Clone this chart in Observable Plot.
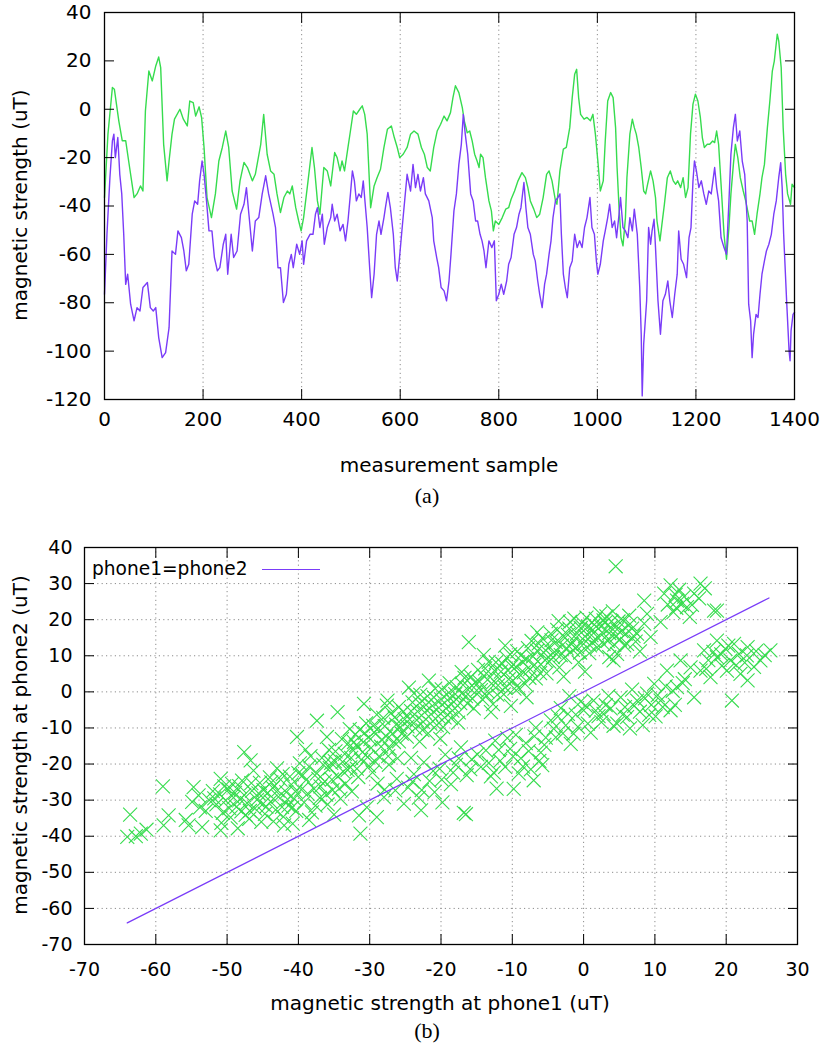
<!DOCTYPE html>
<html><head><meta charset="utf-8">
<script src="https://cdn.jsdelivr.net/npm/d3@7"></script>
<script src="https://cdn.jsdelivr.net/npm/@observablehq/plot@0.6"></script>
<style>
body{margin:0;background:#fff;}
#fig{position:relative;width:822px;height:1051px;overflow:hidden;font-family:"DejaVu Sans",sans-serif;color:#000;}
#fig svg{position:absolute;left:0;}
.t{position:absolute;white-space:nowrap;line-height:1;transform:translate(-50%,-50%);font-size:20px;}
.v{transform:translate(-50%,-50%) rotate(-90deg);}
.cap{font-family:"Liberation Serif","Times New Roman",serif;font-size:22px;}
#legend{position:absolute;left:92px;top:558px;font-size:18.6px;line-height:22px;white-space:nowrap;}
#legend span.sw{display:inline-block;width:58px;height:0;border-top:1.3px solid #7a3cf8;vertical-align:middle;margin-left:14px;}
</style></head><body><div id="fig"></div>
<script>
// ---------- data ----------
const sampleTicks = [0, 200, 400, 600, 800, 1000, 1200, 1400];
const strengthTicks = [-120, -100, -80, -60, -40, -20, 0, 20, 40];
const phone1Ticks = [-70, -60, -50, -40, -30, -20, -10, 0, 10, 20, 30];
const phone2Ticks = [-70, -60, -50, -40, -30, -20, -10, 0, 10, 20, 30, 40];
const legendLabel = "phone1=phone2";
const identityEnds = [-64, 26];

// purple trace [sample, uT]
const purpleTrace = [[0,-76.5],[5,-51.7],[11,-28.3],[16,-13.1],[19,-10.3],[22,-20],[27,-11.7],[31,-26.9],[35,-35],[39,-51.7],[43,-72.4],[47,-68.2],[53,-80.6],[60,-87.5],[66,-82],[72,-83.4],[78,-73.7],[87,-71.6],[93,-82],[99,-83.4],[104,-82],[110,-94.4],[117,-102.7],[124,-100.6],[131,-90.3],[137,-58.6],[144,-60],[149,-50.3],[156,-53.1],[161,-58.6],[166,-66.8],[171,-64.1],[178,-43.4],[183,-37.9],[189,-39.3],[193,-29.6],[198,-21.4],[202,-26.9],[207,-37.9],[212,-50.3],[218,-50.3],[223,-61.3],[229,-66.8],[234,-65.5],[241,-55.8],[246,-51.7],[250,-68.2],[257,-51.7],[262,-61.3],[269,-58.6],[276,-43.4],[283,-39.3],[288,-32.4],[293,-43.4],[300,-58.6],[306,-46.2],[313,-44.8],[320,-35],[327,-27.5],[333,-35],[342,-43.4],[347,-48.9],[352,-65.5],[357,-65.5],[363,-79.9],[369,-76.5],[374,-64.1],[379,-60],[383,-65.5],[390,-55.8],[396,-60],[401,-54.4],[404,-64.1],[410,-54.4],[417,-51.7],[423,-51.7],[428,-43.4],[432,-40.7],[437,-48.9],[442,-43.4],[446,-55.8],[452,-48.9],[459,-44.8],[462,-39.3],[467,-46.2],[472,-43.4],[478,-50.3],[484,-47.6],[489,-54.4],[494,-46.2],[499,-35],[503,-25.5],[507,-29.6],[511,-37.9],[516,-35],[521,-36.5],[525,-29.6],[529,-39.3],[533,-48.9],[538,-65.5],[542,-77.9],[547,-68.2],[552,-51.7],[557,-46.2],[561,-51.7],[567,-44.8],[570,-40.7],[575,-34.4],[580,-40.7],[586,-51.7],[590,-65.5],[594,-71],[598,-62.7],[604,-48.9],[609,-37.9],[614,-26.9],[621,-33.8],[626,-22.8],[631,-32.4],[636,-26.9],[641,-33.8],[647,-28.3],[651,-35],[658,-37.9],[665,-44.8],[668,-54.4],[674,-61.3],[678,-65.5],[683,-73.7],[689,-75.1],[694,-79.2],[699,-71],[703,-60],[709,-42],[714,-35],[719,-22.8],[724,-14.5],[728,-2.1],[732,-10.3],[737,-18.6],[743,-35],[748,-37.9],[753,-46.2],[757,-46.2],[762,-51.7],[766,-54.4],[770,-58.6],[774,-65.5],[780,-54.4],[786,-57.2],[791,-54.4],[795,-79.2],[800,-76.5],[805,-72.3],[810,-76.5],[816,-71],[820,-64.1],[825,-61.3],[831,-51.7],[836,-48.9],[841,-43.4],[845,-40.7],[851,-30.3],[855,-40.7],[859,-48.9],[864,-51.7],[870,-60],[874,-62.7],[879,-71],[883,-76.5],[888,-82],[893,-72.3],[897,-68.2],[902,-60],[906,-54.4],[910,-44.8],[915,-37.9],[920,-36.5],[924,-35],[927,-51.7],[931,-68.2],[935,-73.7],[939,-77.9],[944,-65.5],[949,-62.7],[954,-51.7],[959,-57.2],[964,-54.4],[969,-57.2],[974,-48.9],[979,-44.8],[985,-36.5],[989,-48.9],[994,-51.7],[998,-62.7],[1001,-68.2],[1006,-64.1],[1012,-54.4],[1016,-50.3],[1021,-44.8],[1025,-39.3],[1030,-48.9],[1035,-46.2],[1039,-53.1],[1044,-43.4],[1047,-36.5],[1052,-48.9],[1057,-50.3],[1062,-53.1],[1066,-44.8],[1071,-50.3],[1075,-41.3],[1081,-51.7],[1086,-73.7],[1089,-93],[1091,-118.5],[1094,-97.1],[1100,-79.2],[1104,-48.9],[1108,-55.8],[1111,-50.3],[1115,-45.5],[1118,-57.2],[1123,-79.2],[1128,-93],[1133,-79.2],[1138,-76.5],[1143,-71],[1147,-79.2],[1152,-86.1],[1157,-76.5],[1162,-68.2],[1165,-50.3],[1170,-62],[1175,-64.1],[1181,-69.6],[1186,-53.1],[1190,-48.9],[1194,-29.6],[1197,-21.4],[1201,-25.5],[1206,-32.4],[1211,-29.6],[1216,-35],[1221,-39.3],[1226,-33.8],[1231,-35],[1238,-24.1],[1242,-32.4],[1246,-37.9],[1251,-53.1],[1257,-57.2],[1262,-60],[1267,-37.9],[1271,-18.6],[1276,-7.6],[1280,-2.1],[1284,-13.1],[1289,-9],[1294,-21.4],[1299,-26.9],[1304,-46.2],[1307,-80.6],[1311,-87.5],[1314,-102.7],[1317,-93],[1322,-84.8],[1326,-86.1],[1330,-76.5],[1334,-68.2],[1339,-62.7],[1343,-58.6],[1348,-55.8],[1353,-51.7],[1358,-43.4],[1363,-37.9],[1368,-28.3],[1372,-22.1],[1375,-32.4],[1378,-51.7],[1384,-79.2],[1389,-99.9],[1391,-104],[1393,-91.6],[1397,-84.8],[1400,-84]];

// green trace [sample, uT]
const greenTrace = [[0,-36.5],[7,-10.3],[16,9],[20,8.3],[29,-4.8],[36,-13],[43,-13],[49,-21.4],[60,-36.5],[66,-35],[73,-31.7],[78,-33.8],[83,-0.7],[90,15.8],[97,11.7],[104,17.9],[110,21.6],[114,17.2],[120,-14.5],[127,-29.6],[131,-21.4],[137,-10.3],[142,-4.1],[153,0],[160,-4.1],[168,-6.9],[173,3.4],[180,2.7],[185,-2.8],[192,1],[197,-3.4],[202,-15.8],[208,-36.5],[217,-44.8],[225,-35],[232,-21.4],[239,-15.8],[246,-9],[252,-15.8],[259,-33.8],[268,-41.3],[275,-29.6],[283,-22],[290,-24.1],[300,-29.6],[306,-26.9],[317,-14.5],[323,-2.1],[330,-18.6],[337,-25.5],[344,-26.9],[350,-35],[357,-42.7],[364,-36.5],[371,-33.8],[376,-35],[381,-31.7],[388,-40.7],[394,-46.2],[399,-50.3],[404,-44.8],[413,-29.6],[421,-15.8],[426,-24.1],[432,-37.9],[437,-43.4],[445,-24.1],[452,-25.5],[459,-31.7],[467,-17.9],[472,-20],[478,-25.5],[482,-21.4],[487,-25.5],[494,-15.8],[499,-9],[505,-0.7],[511,-2.1],[518,0],[523,1.4],[528,-2.1],[533,-10.3],[540,-40.7],[547,-31.7],[553,-28.3],[560,-24.8],[567,-15.8],[574,-8.3],[582,-6.9],[588,-11.7],[594,-15.8],[599,-20],[606,-18.6],[614,-15.8],[621,-10.3],[628,-9],[636,-10.3],[643,-15.8],[649,-18.6],[655,-24.1],[661,-25.5],[668,-15.8],[675,-9],[682,-6.2],[689,-2.8],[695,-4.8],[702,-1.4],[707,4.8],[712,9.7],[719,6.9],[726,0.7],[730,-4.8],[736,-9.7],[741,-9],[746,-13.1],[751,-18.6],[756,-21.4],[760,-24.1],[763,-18.6],[768,-20],[773,-28.3],[780,-37.9],[785,-42],[789,-50.3],[793,-46.2],[800,-47.6],[807,-44.8],[814,-41.3],[820,-40.7],[825,-37.2],[832,-33.8],[839,-29.6],[847,-26.2],[854,-28.3],[859,-32.4],[864,-37.9],[871,-41.3],[877,-44.8],[883,-43.4],[890,-36.5],[897,-26.9],[902,-25.5],[908,-29.6],[915,-37.9],[918,-39.3],[924,-25.5],[931,-16.5],[937,-15.8],[944,-7.6],[949,4.8],[954,14.5],[958,16.5],[962,4.8],[966,-2.1],[973,-4.1],[979,-3.4],[986,-4.8],[991,-2.1],[996,-10.3],[1001,-21.4],[1006,-33.8],[1012,-29.6],[1016,-13.1],[1021,3.4],[1027,6.9],[1032,4.8],[1037,-7.6],[1040,-24.1],[1044,-40.7],[1048,-53.1],[1052,-56.5],[1057,-44.8],[1060,-28.3],[1066,-10.3],[1071,-4.1],[1075,-7.6],[1079,-10.3],[1084,-15.8],[1089,-24.1],[1094,-33.8],[1098,-35],[1102,-31],[1108,-25.5],[1113,-29.6],[1118,-36.5],[1121,-46.2],[1127,-54.4],[1131,-47.6],[1136,-39.3],[1142,-28.3],[1148,-25.5],[1154,-29.6],[1159,-31],[1163,-29.6],[1169,-32.4],[1174,-28.3],[1179,-36.5],[1184,-32.4],[1189,-10.3],[1194,2.1],[1199,6.2],[1204,3.4],[1209,-3.4],[1213,-11.7],[1217,-15.8],[1223,-14.5],[1228,-14.5],[1234,-13.1],[1238,-13.8],[1242,-9],[1246,-14.5],[1251,-31],[1257,-51.7],[1262,-62],[1267,-48.9],[1271,-35],[1276,-22.8],[1280,-14.5],[1285,-20],[1290,-28.3],[1296,-33.8],[1301,-37.9],[1305,-42],[1309,-46.2],[1314,-46.2],[1319,-51.7],[1324,-43.4],[1330,-35],[1334,-28.3],[1339,-22.8],[1345,-7.6],[1350,3.4],[1355,15.8],[1359,19.9],[1365,31],[1368,28.3],[1373,17.2],[1377,-7.6],[1382,-26.9],[1386,-35],[1392,-39.3],[1395,-31],[1400,-32.4]];

// scatter [phone1, phone2]
const scatterPairs = [
[-63.6,-34],[-64,-40.2],[-62.1,-39.3],[-61.3,-38.2],[-62.8,-40],[-59,-26.2],[-58.2,-34.2],[-58.9,-37],[-55.4,-37],[-54.7,-26.4],[-54,-28.7],[-54.9,-30.5],[-53.5,-37.5],[-55.8,-35.5],[-53,-33],[-52.5,-30],[-52,-27.5],[-53.8,-32],
[-51.5,-31.2],[-51,-28.4],[-50.6,-33.5],[-50.2,-30.1],[-49.8,-27],[-49.5,-34.8],[-49.1,-29.3],[-48.7,-31.9],[-48.3,-26.1],[-48,-33.1],[-47.6,-28.6],[-47.2,-30.8],[-46.9,-35.2],[-46.5,-27.4],[-46.1,-32.3],[-45.8,-29.9],[-45.4,-25.2],[-45,-31.1],[-44.7,-33.8],[-44.3,-28],[-43.9,-30.4],[-43.6,-26.6],[-43.2,-32.7],[-42.8,-29.1],[-42.5,-24.3],[-42.1,-34.6],[-41.7,-27.8],[-41.4,-31.5],[-41,-25.7],[-40.6,-29.6],[-40.3,-33],[-40,-22.5],[-50.8,-36.3],[-47.9,-24.6],[-45.2,-36],[-44,-23.7],[-46.3,-21.8],[-47.6,-16.7],[-46.7,-19],[-50.9,-24.1],[-50.9,-38.4],[-48.5,-37.8],[-43.5,-35.9],[-42,-37],[-40.8,-36.5],[-49.3,-25.5],[-44.9,-27.2],[-42.3,-31.9],[-46.8,-33],[-48.9,-28],[-43,-21.2],[-41.2,-23.5],
[-51.8,-29.5],[-50.4,-26.2],[-49.7,-32.2],[-48.2,-29.8],[-47.4,-34.1],[-46.6,-25.3],[-45.6,-28.1],[-44.5,-31.8],[-43.8,-25.1],[-42.9,-27.3],[-42.2,-22.8],[-41.5,-29.8],[-40.9,-32.1],[-40.4,-27.6],
[-39.6,-27.1],[-39.2,-30.6],[-38.9,-24.4],[-38.5,-20.7],[-38.1,-33.4],[-37.8,-26.9],[-37.4,-22.6],[-37,-29.4],[-36.7,-18.3],[-36.3,-24.8],[-35.9,-31.2],[-35.6,-21.1],[-35.2,-27.2],[-34.8,-16.5],[-34.5,-23.5],[-34.1,-29.6],[-33.8,-19.4],[-33.4,-25.4],[-33,-14.2],[-37.4,-8],[-34.5,-5.6],[-40.2,-12.5],[-39,-16],[-36,-12.5],[-35,-34],[-38.5,-35.5],[-36.9,-26.2],[-35.4,-19.7],[-33.7,-22.1],[-39.8,-19.8],
[-39.4,-23.1],[-38.7,-28.2],[-38.3,-17.8],[-37.6,-31.5],[-37.2,-24.1],[-36.5,-20.2],[-36.1,-28.5],[-35.7,-16.1],[-35.3,-24.3],[-34.9,-19.2],[-34.3,-26.8],[-33.9,-13.1],[-33.5,-17.2],[-33.1,-21.6],
[-32.7,-20.9],[-32.3,-16.2],[-32,-11.8],[-31.6,-23.6],[-31.2,-18.8],[-30.9,-13.9],[-30.5,-8.7],[-30.1,-20.5],[-29.8,-15.5],[-29.4,-11.2],[-29,-6.3],[-28.7,-17.9],[-28.3,-13.2],[-27.9,-9.5],[-27.6,-3.8],[-27.2,-15.7],[-26.8,-11.6],[-26.5,-7.1],[-26.1,-18.4],[-25.7,-9.8],[-25.3,-5.5],[-30.8,-3.3],[-27.5,-2.4],[-31.3,-39.3],[-31.5,-34.2],[-29,-34.7],[-30.4,-32],[-25.2,-31],[-28,-29.2],[-32.5,-27.6],[-28.9,-25.4],[-26.4,-27.3],[-31.9,-14.8],[-29.6,-22.3],[-27.3,-20.2],[-32.8,-10.3],[-25.9,-13.7],
[-32.6,-18.3],[-32.2,-13.9],[-31.8,-21.3],[-31.4,-10.5],[-31,-16.7],[-30.7,-11.4],[-30.3,-18.1],[-29.9,-13.1],[-29.5,-9.4],[-29.2,-19.4],[-28.8,-10.1],[-28.4,-15.2],[-28.1,-7.2],[-27.7,-12.3],[-27.4,-17.8],[-27,-5.9],[-26.6,-13.9],[-26.3,-9.1],[-25.9,-4.2],[-25.5,-11.6],[-25.1,-7.6],
[-24.8,-12.4],[-24.4,-7.6],[-24,-2.9],[-23.6,-10.1],[-23.3,-5.4],[-22.9,-0.8],[-22.5,-8.3],[-22.1,-3.6],[-21.8,-11.5],[-21.4,-6.2],[-21,-1.5],[-20.6,-9.2],[-20.3,-4.4],[-19.9,0.7],[-19.5,-7.1],[-19.1,-2.3],[-18.8,2.4],[-18.4,-5.2],[-18,-0.6],[-17.6,-8.5],[-17.3,-3.1],[-16.9,1.9],[-16.5,-1.2],[-16.1,13.8],[-15.8,4.2],[-15.4,-4.6],[-15,0.4],[-23,-13.8],[-20.1,-13],[-17.1,5.5],[-24.5,1.2],[-21.7,3.1],
[-24.7,-9.6],[-24.2,-5.3],[-23.8,-0.4],[-23.4,-7.8],[-23,-3.1],[-22.6,-10.6],[-22.3,-5.7],[-21.9,-1.2],[-21.5,-8.8],[-21.2,-3.9],[-20.8,0.9],[-20.4,-6.7],[-20,-2.1],[-19.7,-9.8],[-19.3,-4.6],[-18.9,-0.2],[-18.6,-7.3],[-18.2,-2.8],[-17.8,1.3],[-17.5,-5.7],[-17.1,-0.4],[-16.7,3.9],[-16.3,-3.2],[-16,1.1],[-15.6,-1.9],[-15.2,2.6],
[-24.6,-26.5],[-23.8,-22.8],[-23.1,-29.3],[-22.4,-19.5],[-21.6,-24.7],[-20.9,-27.8],[-20.2,-21.3],[-19.4,-17.4],[-18.6,-25.6],[-17.9,-20.2],[-17.2,-15.4],[-16.4,-23.1],[-15.7,-18.7],[-16.8,-33.5],[-16.5,-33.9],[-19.8,-30.6],[-22.8,-32.8],[-24.2,-18.3],
[-27.9,-27.1],[-26.2,-24.1],[-24,-24.9],[-22.7,-27.2],[-21.1,-21.9],[-19.9,-24.3],[-18.3,-22.4],[-17.5,-18.4],[-15.9,-21.4],
[-14.6,2.8],[-14.2,-2.1],[-13.8,6.5],[-13.5,0.1],[-13.1,4.1],[-12.7,-3.4],[-12.3,8.2],[-12,1.8],[-11.6,5.6],[-11.2,-0.7],[-10.8,9.4],[-10.5,3.5],[-10.1,7.1],[-9.7,0.9],[-9.3,11.2],[-9,4.9],[-8.6,8.3],[-8.2,2.2],[-7.8,12.1],[-7.5,6.3],[-7.1,9.8],[-6.7,3.7],[-6.3,13.4],[-6,7.6],[-5.6,10.9],[-5.2,5.1],[-14,10.2],[-11,12.8],[-8,-1.5],[-6.5,16.5],[-13,-5.6],[-10.2,-3.9],
[-14.8,6.1],[-14.4,0.5],[-14,4.4],[-13.6,-1.1],[-13.3,8.3],[-12.9,2.3],[-12.5,5.9],[-12.1,-0.8],[-11.8,3.6],[-11.4,7.8],[-11,1.2],[-10.6,5.9],[-10.3,10.4],[-9.9,3.1],[-9.5,6.9],[-9.1,1.1],[-8.8,10.1],[-8.4,5.4],[-8,9.1],[-7.6,3.9],[-7.3,14.1],[-6.9,7.5],[-6.5,11.4],[-6.1,5.2],[-5.8,14.9],[-5.4,8.8],[-5,12.2],
[-14.4,-20.8],[-13.7,-16.2],[-13,-23.4],[-12.4,-13.5],[-11.7,-19.1],[-11,-20.8],[-10.3,-15.8],[-9.8,-26.9],[-9.5,-11.9],[-8.8,-18.4],[-8.1,-14.2],[-7.4,-21.5],[-7,-24.5],[-6.7,-9.9],[-6,-16.8],[-5.3,-12.7],[-12.2,-26.8],[-9.1,-22.6],[-5.8,-20.3],
[-14.9,-17.3],[-13.3,-19.7],[-12.6,-22.4],[-11.9,-16.1],[-10.7,-12.8],[-9.9,-17.9],[-8.5,-20.7],[-7.7,-16.4],[-6.9,-12.3],[-6.2,-19.1],[-5.5,-14.7],
[-4.8,8.4],[-4.5,14.3],[-4.1,11.1],[-3.7,17.2],[-3.4,6.8],[-3,12.9],[-2.6,9.7],[-2.2,15.8],[-1.9,19.4],[-1.5,11.6],[-1.1,14.9],[-0.7,8.2],[-0.4,17.7],[0,13.3],[0.4,20.6],[0.8,10.7],[1.1,15.7],[1.5,18.6],[1.9,12.3],[2.3,21.7],[2.6,16.5],[3,19.1],[3.4,14.1],[3.8,17.9],[4.1,22.3],[4.5,15.4],[4.9,19.5],[2.8,19.8],[1.4,14.2],[-0.9,12.4],[4.5,34.8],[-2.8,4.2],[0.2,5.6],[3.6,9.6],[4.7,10.5],[4.2,8.7],
[-4.6,16.1],[-4.3,9.6],[-3.9,13.8],[-3.5,19.6],[-3.2,10.2],[-2.8,15.3],[-2.4,12.1],[-2,17.5],[-1.7,13.2],[-1.3,20.3],[-0.9,16.2],[-0.5,10.9],[-0.2,19.1],[0.2,15.4],[0.6,18.1],[0.9,12.9],[1.3,17.2],[1.7,20.2],[2.1,14.9],[2.4,18.2],[2.8,13.3],[3.2,20.9],[3.6,16.3],[3.9,19.5],[4.3,13.1],[4.7,17.3],
[-4.6,-7.9],[-3.9,-12.6],[-3.2,-4.5],[-2.5,-9.3],[-1.8,-14.4],[-1.4,-11.6],[-1.1,-6.3],[-0.4,-2.7],[0,-5.1],[0.6,-8.8],[1.4,-2.4],[2.1,-6.7],[2.8,-6.1],[3.5,-1.1],[4.2,-9.4],[4.7,-8.8],[-2,-1.2],[1,-11.3],[3.1,-3.7],
[-4.2,-10.2],[-3.6,-6.8],[-2.9,-11.5],[-2.2,-6.1],[-0.8,-9.7],[0.3,-3.8],[1.7,-5.2],[2.5,-8.4],[3.8,-4.6],
[5.3,16.8],[5.7,12.9],[6.1,13.3],[6.5,18.8],[7,15.5],[7.5,16.1],[7.9,11.2],[8.5,18.9],[8.9,21.6],[9.4,15.2],[8.5,25.3],[6.4,21.1],[5.5,19.9],[5.1,14.5],[5.9,16.1],[6.8,17.5],[7.3,13.9],
[5.2,-1.5],[6.1,-7],[7.5,-2.4],[8.9,-0.5],[9.9,2.2],[5.8,-4.2],[6.8,0.6],[7.9,-5.5],[8.3,-9.2],[9.5,-3.6],[6.5,-10.1],[5.5,-6.3],[7.1,-3.9],[8.6,-1.8],[9.2,-6.4],
[12.2,29.5],[16.4,30],[18.3,22.5],[10.8,19.3],[14.5,23.5],[13.1,25.3],[15.5,27.2],[11.3,27.2],[18.7,22.5],[13.8,24.4],[12.6,22.1],[14.9,20.8],[16.2,25.9],[11.8,24.2],[13.4,28.3],[17,28.7],[13,23.3],[14.1,26.4],[15.2,24.1],[12.9,26.9],
[26.2,11.5],[24.8,8.7],[23,12.4],[21.1,13.3],[20.6,8.7],[18.7,9.6],[16.9,11.5],[16.4,5.9],[17.8,4.1],[20.1,5.9],[22,5],[20.8,-2.4],[15.5,-1.5],[23,3.2],[23.9,6.9],[18.7,14.2],[19.4,7.2],[21.8,10.5],[17.5,8.8],[22.6,8.1],[25.4,10.2],[19.9,11.9],[19.3,10.4],[21.4,7.4],[22.9,10.1],[20.3,12.8],[24.2,11.3],[17.2,6.4],[18.2,11.1],
[10.8,-2.4],[12.2,-5.1],[11.7,5.9],[13.6,8.7],[13.1,1.3],[10.4,-0.9],[11.5,1.5],[12.8,-3.6],[14.2,3.5],[10.1,-6.8],[15,6.8],[11.1,-4.2],[12.5,0.3],[13.9,2.4]
];

// ---------- style ----------
const PURPLE = "#7a3cf8";
const GREEN = "#36dc4e";
const GRID = {stroke: "#8c8c8c", strokeOpacity: 1, strokeDasharray: "1.2,3.2", strokeWidth: 1};
const plain = d => String(d);
const blank = () => "";
const fig = document.getElementById("fig");

// ---------- panel (a) ----------
const plotA = Plot.plot({
  width: 822, height: 500,
  marginLeft: 104, marginRight: 28, marginTop: 12, marginBottom: 101,
  style: {fontFamily: "'DejaVu Sans',sans-serif", fontSize: "20px", color: "#000", background: "transparent"},
  x: {domain: [0, 1400], axis: null},
  y: {domain: [-120, 40], axis: null},
  marks: [
    Plot.gridX(sampleTicks, GRID),
    Plot.line(greenTrace, {x: d => d[0], y: d => d[1], stroke: GREEN, strokeWidth: 1.4}),
    Plot.line(purpleTrace, {x: d => d[0], y: d => d[1], stroke: PURPLE, strokeWidth: 1.4}),
    Plot.axisX(sampleTicks, {anchor: "bottom", tickSize: -10, tickPadding: 22, tickFormat: plain, label: null}),
    Plot.axisX(sampleTicks, {anchor: "top", tickSize: -10, tickFormat: blank, label: null}),
    Plot.axisY(strengthTicks, {anchor: "left", tickSize: -10, tickPadding: 23, tickFormat: plain, label: null}),
    Plot.axisY(strengthTicks, {anchor: "right", tickSize: -10, tickFormat: blank, label: null}),
    Plot.frame({stroke: "#000", strokeWidth: 1.3})
  ]
});
plotA.style.top = "0px";
fig.appendChild(plotA);

// ---------- panel (b) ----------
const plotB = Plot.plot({
  width: 822, height: 551,
  marginLeft: 84, marginRight: 25, marginTop: 47, marginBottom: 107,
  style: {fontFamily: "'DejaVu Sans',sans-serif", fontSize: "19px", color: "#000", background: "transparent"},
  x: {domain: [-70, 30], axis: null},
  y: {domain: [-70, 40], axis: null},
  marks: [
    Plot.gridX(phone1Ticks, GRID),
    Plot.gridY(phone2Ticks, GRID),
    Plot.dot(scatterPairs, {x: d => d[0], y: d => d[1], symbol: "times", r: 6.4, stroke: GREEN, strokeWidth: 1.1}),
    Plot.line(identityEnds, {x: d => d, y: d => d, stroke: PURPLE, strokeWidth: 1.3}),
    Plot.axisX(phone1Ticks, {anchor: "bottom", tickSize: -10, tickPadding: 28, tickFormat: plain, label: null}),
    Plot.axisX(phone1Ticks, {anchor: "top", tickSize: -10, tickFormat: blank, label: null}),
    Plot.axisY(phone2Ticks, {anchor: "left", tickSize: -10, tickPadding: 22, tickFormat: plain, label: null}),
    Plot.axisY(phone2Ticks, {anchor: "right", tickSize: -10, tickFormat: blank, label: null}),
    Plot.frame({stroke: "#000", strokeWidth: 1.3})
  ]
});
plotB.style.top = "500px";
fig.appendChild(plotB);

// ---------- text ----------
function addText(txt, x, y, cls) {
  const d = document.createElement("div");
  d.className = "t " + (cls || "");
  d.textContent = txt;
  d.style.left = x + "px";
  d.style.top = y + "px";
  fig.appendChild(d);
}
addText("magnetic strength (uT)", 20, 205, "v");
addText("measurement sample", 449, 465, "");
addText("(a)", 427, 496, "cap");
addText("magnetic strength at phone2 (uT)", 20, 745, "v");
addText("magnetic strength at phone1 (uT)", 440, 1003, "");
addText("(b)", 427, 1031, "cap");
const lg = document.createElement("div");
lg.id = "legend";
lg.appendChild(document.createTextNode(legendLabel));
const sw = document.createElement("span"); sw.className = "sw"; lg.appendChild(sw);
fig.appendChild(lg);
</script>
</body></html>
